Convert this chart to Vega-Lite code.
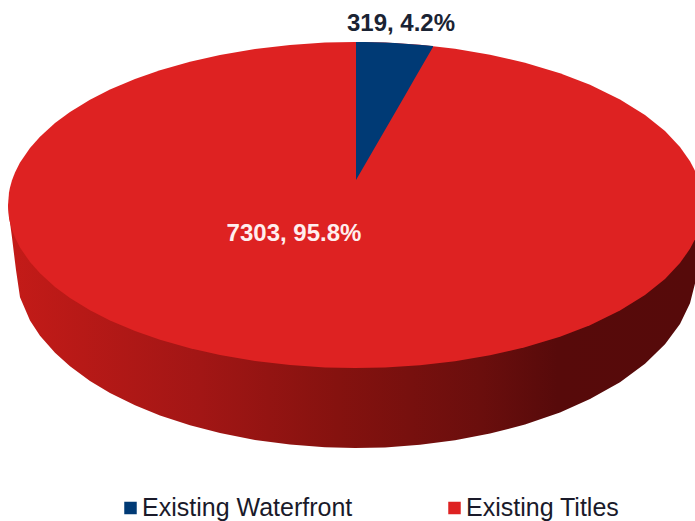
{
"$schema":"https://vega.github.io/schema/vega-lite/v6.json",
"width":695,"height":521,"padding":0,"autosize":{"type":"none"},
"background":"white",
"view":{"stroke":null},
"config":{"font":"Liberation Sans"},
"datasets":{
"side":[{"x":8,"top":205,"bottom":205},{"x":9,"top":205,"bottom":217.4},{"x":10,"top":205,"bottom":222.5},{"x":12,"top":205,"bottom":237.5},{"x":15,"top":205,"bottom":262},{"x":16,"top":205,"bottom":270},{"x":20,"top":205,"bottom":297.2},{"x":30,"top":205,"bottom":320.6},{"x":40,"top":205,"bottom":335.7},{"x":55,"top":205,"bottom":352.8},{"x":70,"top":205,"bottom":366.3},{"x":90,"top":205,"bottom":380.9},{"x":110,"top":205,"bottom":392.9},{"x":135,"top":205,"bottom":405.3},{"x":160,"top":205,"bottom":415.4},{"x":190,"top":205,"bottom":425.3},{"x":220,"top":205,"bottom":433.1},{"x":255,"top":205,"bottom":440},{"x":290,"top":205,"bottom":444.6},{"x":325,"top":205,"bottom":447.3},{"x":355,"top":205,"bottom":448},{"x":385,"top":205,"bottom":447.4},{"x":420,"top":205,"bottom":444.8},{"x":455,"top":205,"bottom":440.3},{"x":490,"top":205,"bottom":433.6},{"x":525,"top":205,"bottom":424.5},{"x":560,"top":205,"bottom":412.4},{"x":590,"top":205,"bottom":399.1},{"x":620,"top":205,"bottom":382.2},{"x":645,"top":205,"bottom":363.8},{"x":665,"top":205,"bottom":344.3},{"x":680,"top":205,"bottom":324},{"x":690,"top":205,"bottom":303.3},{"x":695,"top":205,"bottom":283.6}],
"titles":[{"category":"Existing Titles","x":8,"top":205,"bottom":205},{"category":"Existing Titles","x":9,"top":192.6,"bottom":217.4},{"category":"Existing Titles","x":10,"top":187.5,"bottom":222.5},{"category":"Existing Titles","x":12,"top":180.3,"bottom":229.7},{"category":"Existing Titles","x":15,"top":172.4,"bottom":237.6},{"category":"Existing Titles","x":20,"top":162.5,"bottom":247.5},{"category":"Existing Titles","x":30,"top":147.9,"bottom":262.1},{"category":"Existing Titles","x":40,"top":136.7,"bottom":273.3},{"category":"Existing Titles","x":55,"top":123.1,"bottom":286.9},{"category":"Existing Titles","x":70,"top":112.1,"bottom":297.9},{"category":"Existing Titles","x":90,"top":99.8,"bottom":310.2},{"category":"Existing Titles","x":110,"top":89.6,"bottom":320.4},{"category":"Existing Titles","x":135,"top":79,"bottom":331},{"category":"Existing Titles","x":160,"top":70.2,"bottom":339.8},{"category":"Existing Titles","x":190,"top":61.7,"bottom":348.3},{"category":"Existing Titles","x":220,"top":54.9,"bottom":355.1},{"category":"Existing Titles","x":255,"top":49,"bottom":361},{"category":"Existing Titles","x":290,"top":44.9,"bottom":365.1},{"category":"Existing Titles","x":325,"top":42.6,"bottom":367.4},{"category":"Existing Titles","x":355,"top":42,"bottom":368},{"category":"Existing Titles","x":385,"top":42.6,"bottom":367.4},{"category":"Existing Titles","x":420,"top":44.8,"bottom":365.2},{"category":"Existing Titles","x":455,"top":48.8,"bottom":361.2},{"category":"Existing Titles","x":490,"top":54.7,"bottom":355.3},{"category":"Existing Titles","x":525,"top":62.7,"bottom":347.3},{"category":"Existing Titles","x":560,"top":73.3,"bottom":336.7},{"category":"Existing Titles","x":590,"top":84.8,"bottom":325.2},{"category":"Existing Titles","x":620,"top":99.4,"bottom":310.6},{"category":"Existing Titles","x":645,"top":115,"bottom":295},{"category":"Existing Titles","x":665,"top":131.1,"bottom":278.9},{"category":"Existing Titles","x":680,"top":146.9,"bottom":263.1},{"category":"Existing Titles","x":690,"top":161.2,"bottom":248.8},{"category":"Existing Titles","x":695,"top":170.7,"bottom":239.3}],
"waterfront":[{"category":"Existing Waterfront","x":356,"top":42,"bottom":180},{"category":"Existing Waterfront","x":365,"top":42.1,"bottom":164.5},{"category":"Existing Waterfront","x":375,"top":42.3,"bottom":147.2},{"category":"Existing Waterfront","x":385,"top":42.6,"bottom":129.9},{"category":"Existing Waterfront","x":395,"top":43.1,"bottom":112.7},{"category":"Existing Waterfront","x":405,"top":43.7,"bottom":95.4},{"category":"Existing Waterfront","x":415,"top":44.4,"bottom":78.1},{"category":"Existing Waterfront","x":425,"top":45.3,"bottom":60.8},{"category":"Existing Waterfront","x":433,"top":46.1,"bottom":47}]
},
"layer":[
{"data":{"name":"side"},
 "mark":{"type":"area","color":{"gradient":"linear","x1":0,"x2":1,"y1":0,"y2":0,"stops":[{"offset":0,"color":"#c41b18"},{"offset":0.28,"color":"#a21615"},{"offset":0.48,"color":"#85120f"},{"offset":0.69,"color":"#6a0e0d"},{"offset":0.8,"color":"#570a0a"},{"offset":1,"color":"#560a0a"}]}},
 "encoding":{
  "x":{"field":"x","type":"quantitative","scale":{"domain":[0,695],"nice":false,"zero":false},"axis":null},
  "y":{"field":"top","type":"quantitative","scale":{"domain":[521,0],"nice":false,"zero":false},"axis":null},
  "y2":{"field":"bottom"}}},
{"data":{"name":"titles"},
 "mark":{"type":"area"},
 "encoding":{
  "x":{"field":"x","type":"quantitative","axis":null},
  "y":{"field":"top","type":"quantitative","axis":null},
  "y2":{"field":"bottom"},
  "color":{"field":"category","type":"nominal","scale":{"domain":["Existing Waterfront","Existing Titles"],"range":["#003a75","#de2222"]},
   "legend":{"title":null,"orient":"none","legendX":118,"legendY":494,"direction":"horizontal","columns":2,"columnPadding":89,"symbolType":"square","symbolSize":156,"symbolStrokeWidth":0,"symbolOpacity":1,"labelFontSize":25,"labelColor":"#1a1a2a","labelOffset":-1,"labelLimit":400,"labelFont":"Liberation Sans","clipHeight":28}}}},
{"data":{"name":"waterfront"},
 "mark":{"type":"area"},
 "encoding":{
  "x":{"field":"x","type":"quantitative","axis":null},
  "y":{"field":"top","type":"quantitative","axis":null},
  "y2":{"field":"bottom"},
  "color":{"field":"category","type":"nominal"}}},
{"data":{"values":[{"category":"Existing Waterfront","value":319,"share":4.2,"label":"319, 4.2%"}]},
 "mark":{"type":"text","fontSize":24,"fontWeight":"bold","color":"#1a2333","align":"center","baseline":"middle"},
 "encoding":{"x":{"datum":401,"type":"quantitative","axis":null},"y":{"datum":24,"type":"quantitative","axis":null},"text":{"field":"label"}}},
{"data":{"values":[{"category":"Existing Titles","value":7303,"share":95.8,"label":"7303, 95.8%"}]},
 "mark":{"type":"text","fontSize":24,"fontWeight":"bold","color":"#ffeeee","align":"center","baseline":"middle"},
 "encoding":{"x":{"datum":294,"type":"quantitative","axis":null},"y":{"datum":234,"type":"quantitative","axis":null},"text":{"field":"label"}}}
]
}
